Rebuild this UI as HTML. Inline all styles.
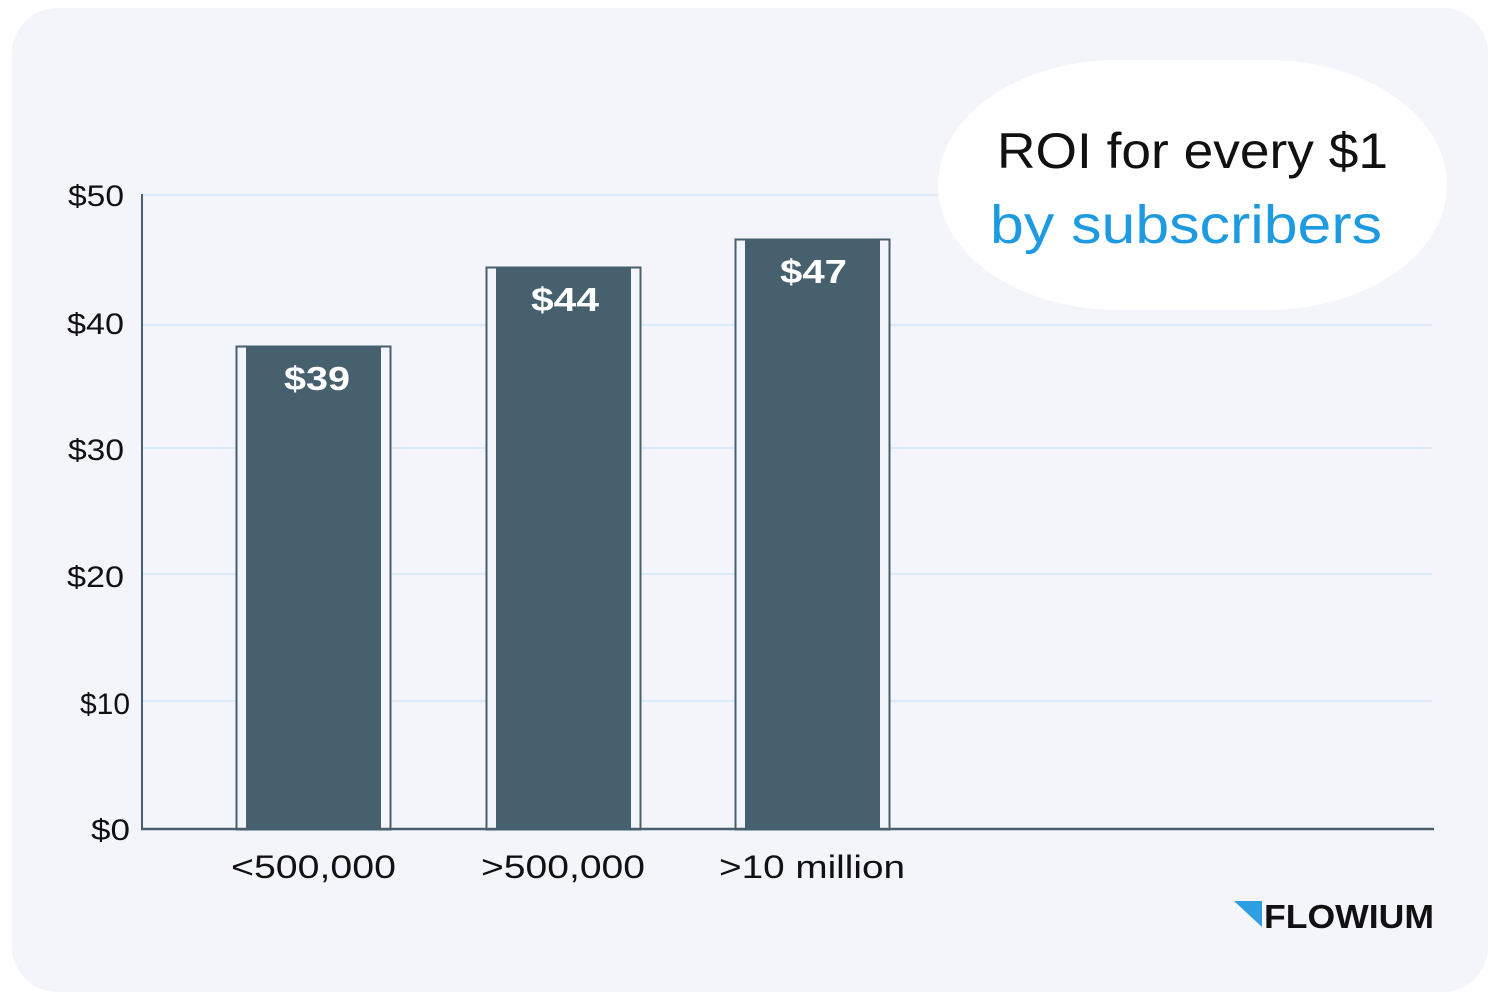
<!DOCTYPE html>
<html><head><style>
body{margin:0;background:#fff;}
svg{display:block;font-family:"Liberation Sans",sans-serif;}
</style></head><body>
<svg width="1500" height="1000" viewBox="0 0 1500 1000">
<rect x="12" y="8" width="1476" height="984" rx="45" fill="#f4f5fb"/>
<g stroke="#bfe0f0" stroke-width="1">
<line x1="142" y1="195" x2="1432" y2="195"/>
<line x1="142" y1="325" x2="1432" y2="325"/>
<line x1="142" y1="448" x2="1432" y2="448"/>
<line x1="142" y1="574" x2="1432" y2="574"/>
<line x1="142" y1="701" x2="1432" y2="701"/>
</g>
<rect x="938" y="60" width="509" height="250" rx="180" ry="125" fill="#fff"/>
<text x="997" y="168" font-size="50" fill="#111" textLength="391" lengthAdjust="spacingAndGlyphs">ROI for every $1</text>
<text x="990" y="243" font-size="54" fill="#1e9be0" textLength="392" lengthAdjust="spacingAndGlyphs">by subscribers</text>
<g fill="#111" font-size="30">
<text x="68" y="206" textLength="56" lengthAdjust="spacingAndGlyphs">$50</text>
<text x="67" y="334" textLength="57" lengthAdjust="spacingAndGlyphs">$40</text>
<text x="68" y="460" textLength="56" lengthAdjust="spacingAndGlyphs">$30</text>
<text x="67" y="587" textLength="57" lengthAdjust="spacingAndGlyphs">$20</text>
<text x="80" y="714" textLength="50" lengthAdjust="spacingAndGlyphs">$10</text>
<text x="91" y="840" textLength="39" lengthAdjust="spacingAndGlyphs">$0</text>
</g>
<g>
<rect x="236.5" y="346.5" width="154" height="483" fill="#f4f5fb" stroke="#46606e" stroke-width="2"/>
<rect x="246" y="347" width="135" height="482" fill="#46606e"/>
<rect x="486.5" y="267.5" width="154" height="562" fill="#f4f5fb" stroke="#46606e" stroke-width="2"/>
<rect x="496" y="268" width="135" height="561" fill="#46606e"/>
<rect x="735.5" y="239.5" width="154" height="590" fill="#f4f5fb" stroke="#46606e" stroke-width="2"/>
<rect x="745" y="240" width="135" height="589" fill="#46606e"/>
</g>
<g fill="#fff" font-size="33" font-weight="bold">
<text x="284" y="390" textLength="66" lengthAdjust="spacingAndGlyphs">$39</text>
<text x="531" y="311" textLength="68" lengthAdjust="spacingAndGlyphs">$44</text>
<text x="780" y="283" textLength="67" lengthAdjust="spacingAndGlyphs">$47</text>
</g>
<line x1="142" y1="194" x2="142" y2="830" stroke="#46606e" stroke-width="2"/>
<line x1="141" y1="829" x2="1434" y2="829" stroke="#46606e" stroke-width="2.5"/>
<g fill="#111" font-size="32">
<text x="231" y="878" textLength="165" lengthAdjust="spacingAndGlyphs">&lt;500,000</text>
<text x="481" y="878" textLength="164" lengthAdjust="spacingAndGlyphs">&gt;500,000</text>
<text x="719" y="878" textLength="186" lengthAdjust="spacingAndGlyphs">&gt;10 million</text>
</g>
<polygon points="1234,901 1262,901 1262,927" fill="#2f9ee0"/>
<text x="1264" y="928" font-size="33" font-weight="bold" fill="#111" textLength="170" lengthAdjust="spacingAndGlyphs">FLOWIUM</text>
</svg>
</body></html>
